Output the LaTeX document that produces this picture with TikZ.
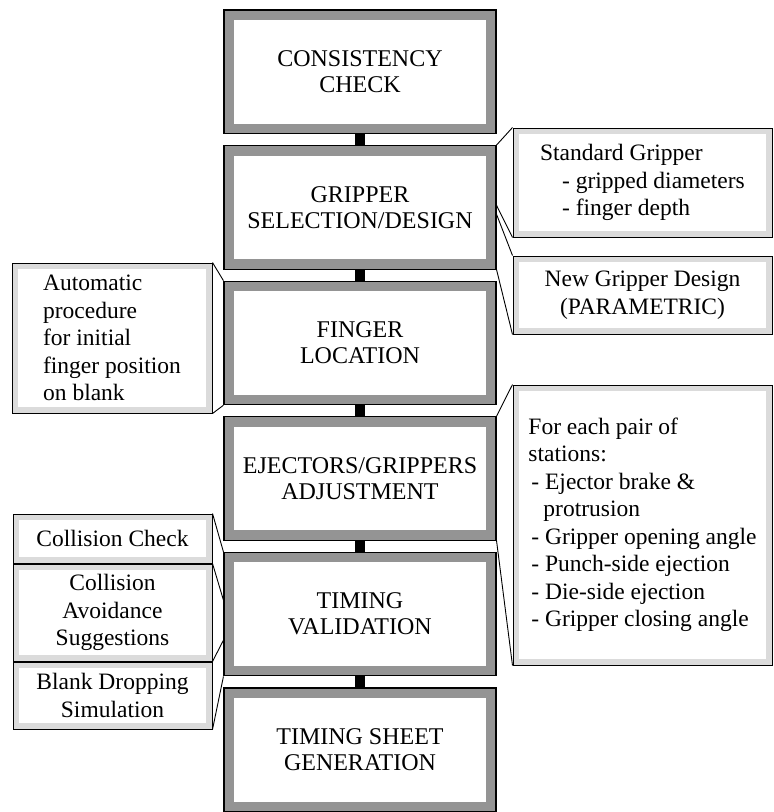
\documentclass[tikz,border=0pt]{standalone}
\usepackage{fontspec}
\setmainfont{Liberation Serif}
\usetikzlibrary{positioning,calc}
\definecolor{band}{gray}{0.58}
\definecolor{stip}{gray}{0.86}
\tikzset{
  stage/.style={draw,line width=1.1pt,fill=band,minimum width=272pt,
                minimum height=123.5pt,align=center,inner sep=0pt,
                font=\fontsize{24}{26}\selectfont,
                path picture={\fill[white]
                  ([shift={(10pt,10pt)}]path picture bounding box.south west) rectangle
                  ([shift={(-10pt,-10pt)}]path picture bounding box.north east);}},
  note/.style={draw,line width=1pt,fill=stip,align=left,inner sep=0pt,
               font=\fontsize{23.5}{27.5}\selectfont,
               path picture={\fill[white]
                 ([shift={(6pt,6pt)}]path picture bounding box.south west) rectangle
                 ([shift={(-6pt,-6pt)}]path picture bounding box.north east);}},
  notec/.style={note,align=center},
  link/.style={line width=10pt},
  lead/.style={line width=0.9pt},
}

\begin{document}
\begin{tikzpicture}[x=1pt,y=-1pt]
\useasboundingbox (0,0) rectangle (774,812);
% main chain
\node[stage] (c1) at (360,71.75) {CONSISTENCY\\CHECK};
\node[stage, below=11pt of c1] (c2) {GRIPPER\\SELECTION/DESIGN};
\node[stage, below=11pt of c2] (c3) {FINGER\\LOCATION};
\node[stage, below=11pt of c3] (c4) {EJECTORS/GRIPPERS\\ADJUSTMENT};
\node[stage, below=11pt of c4] (c5) {TIMING\\VALIDATION};
\node[stage, below=11pt of c5] (c6) {TIMING SHEET\\GENERATION};
\draw[link] (c1.south) -- (c2.north);
\draw[link] (c2.south) -- (c3.north);
\draw[link] (c3.south) -- (c4.north);
\draw[link] (c4.south) -- (c5.north);
\draw[link] (c5.south) -- (c6.north);
% notes on the right
\node[note, minimum width=259pt, minimum height=109pt] (sg) at (642.5,182.5)
  {Standard Gripper\\\hspace*{22pt}- gripped diameters\\\hspace*{22pt}- finger depth};
\node[notec, minimum width=259pt, minimum height=78pt, below=18pt of sg] (ng)
  {New Gripper Design\\(PARAMETRIC)};
\node[note, minimum width=259pt, minimum height=280pt] (st) at (642.5,525)
  {For each pair of\\stations:\\\hspace*{3pt}- Ejector brake \&\\\hspace*{15pt}protrusion\\
   \hspace*{3pt}- Gripper opening angle\\\hspace*{3pt}- Punch-side ejection\\
   \hspace*{3pt}- Die-side ejection\\\hspace*{3pt}- Gripper closing angle};
% notes on the left
\node[note, minimum width=200pt, minimum height=150pt] (ini) at (112,338)
  {Automatic\\procedure\\for initial\\finger position\\on blank};
\node[notec, minimum width=199pt, minimum height=49pt] (cc) at (112.5,538.5) {Collision Check};
\node[notec, minimum width=199pt, minimum height=97pt, below=0pt of cc] (cas)
  {Collision\\Avoidance\\Suggestions};
\node[notec, minimum width=199pt, minimum height=67pt, below=0pt of cas] (bds)
  {Blank Dropping\\Simulation};
% lead lines
\draw[lead] (c2.north east) -- (sg.north west);
\draw[lead] ([yshift=2pt]c2.east) -- (sg.south west);
\draw[lead] ([yshift=-7pt]c2.east) -- (ng.north west);
\draw[lead] (c2.south east) -- (ng.south west);
\draw[lead] (ini.north east) -- (c3.north west);
\draw[lead] (ini.south east) -- (c3.south west);
\draw[lead] (c4.north east) -- (st.north west);
\draw[lead] (c4.south east) -- (st.south west);
\draw[lead] (cc.north east) -- (c5.north west);
\draw[lead] (cas.north east) -- ([yshift=14pt]c5.west);
\draw[lead] (cas.south east) -- ([yshift=-26pt]c5.west);
\draw[lead] (bds.south east) -- (c5.south west);
\end{tikzpicture}
\end{document}
